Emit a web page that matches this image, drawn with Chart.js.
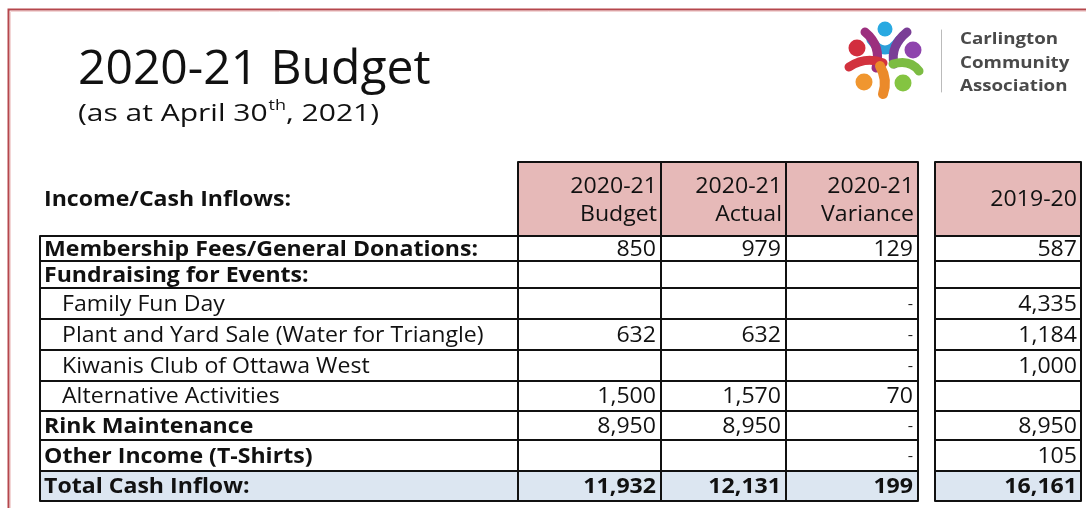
<!DOCTYPE html>
<html>
<head>
<meta charset="utf-8">
<script src="https://cdn.jsdelivr.net/npm/chart.js"></script>
<style>
  body { margin: 0; background: #fff; }
  canvas { display: block; }
</style>
</head>
<body>
<canvas id="budget" width="1086" height="508"></canvas>
<script>
// table content
const titleText = "2020-21 Budget";
const subtitleText = ["(as at April 30", "th", ", 2021)"];
const orgName = ["Carlington", "Community", "Association"];
const sectionLabel = "Income/Cash Inflows:";
const colHeaders = [["2020-21", "Budget"], ["2020-21", "Actual"], ["2020-21", "Variance"]];
const priorHeader = "2019-20";

const rowLabels = [
  "Membership Fees/General Donations:",
  "Fundraising for Events:",
  "Family Fun Day",
  "Plant and Yard Sale (Water for Triangle)",
  "Kiwanis Club of Ottawa West",
  "Alternative Activities",
  "Rink Maintenance",
  "Other Income (T-Shirts)",
  "Total Cash Inflow:"
];
const rowLevel = [0, 0, 1, 1, 1, 1, 0, 0, 0]; // 1 = sub item (indented)
const budget   = [850, null, null, 632, null, 1500, 8950, null, 11932];
const actual   = [979, null, null, 632, null, 1570, 8950, null, 12131];
const variance = [129, null, 0, 0, 0, 70, 0, 0, 199];
const prior    = [587, null, 4335, 1184, 1000, null, 8950, 105, 16161];

// layout (page pixel units on the x / y scales)
const colEdges = [40, 518, 661, 786, 918];
const priorEdges = [935, 1081];
const headTop = 162;
const rowEdges = [236, 261, 288, 319, 350, 381, 411, 440, 471, 501];

const FONT = '"Open Sans", sans-serif';
const PINK = "#e6b9b8";
const BLUE = "#dce6f1";
const STRETCH = 1.1; // the scan is a bit wider than the font

function fmt(v) {
  if (v === null) return "";
  if (v === 0) return "-";
  return v.toLocaleString("en-US");
}

// text drawn with a horizontal stretch around its anchor
function wideText(ctx, text, x, y, sx) {
  ctx.save();
  ctx.translate(x, y);
  ctx.scale(sx, 1);
  ctx.fillText(text, 0, 0);
  ctx.restore();
  return ctx.measureText(text).width * sx;
}

const pagePlugin = {
  id: "budgetPage",
  beforeDraw(chart) {
    const ctx = chart.ctx;
    ctx.save();
    ctx.fillStyle = "#fff";
    ctx.fillRect(0, 0, chart.width, chart.height);
    ctx.restore();
  },
  afterDraw(chart) {
    const { ctx } = chart;
    const xs = chart.scales.x, ys = chart.scales.y;
    const px = v => xs.getPixelForValue(v);
    const py = v => ys.getPixelForValue(v);
    ctx.save();

    // slide frame
    ctx.strokeStyle = "#b5474c";
    ctx.lineWidth = 2;
    ctx.beginPath();
    ctx.moveTo(px(1086), py(9.5));
    ctx.lineTo(px(8.5), py(9.5));
    ctx.lineTo(px(8.5), py(508));
    ctx.stroke();
    ctx.strokeStyle = "#f3d6d6";
    ctx.lineWidth = 1;
    ctx.beginPath();
    ctx.moveTo(px(1086), py(11.5));
    ctx.lineTo(px(10.5), py(11.5));
    ctx.lineTo(px(10.5), py(508));
    ctx.stroke();

    // title
    ctx.fillStyle = "#111";
    ctx.textBaseline = "alphabetic";
    ctx.textAlign = "left";
    ctx.font = "48px " + FONT;
    ctx.fillText(titleText, px(78), py(84));
    ctx.font = "24px " + FONT;
    let sx = px(78);
    sx += wideText(ctx, subtitleText[0], sx, py(121), 1.25);
    ctx.font = "15px " + FONT;
    sx += wideText(ctx, subtitleText[1], sx + 1, py(110), 1.2) + 1;
    ctx.font = "24px " + FONT;
    wideText(ctx, subtitleText[2], sx, py(121), 1.25);

    // logo
    drawLogo(ctx, px, py);
    ctx.strokeStyle = "#bbb";
    ctx.lineWidth = 1;
    ctx.beginPath();
    ctx.moveTo(px(941.5), py(30));
    ctx.lineTo(px(941.5), py(92));
    ctx.stroke();
    ctx.fillStyle = "#4a4a4a";
    ctx.font = "bold 16px " + FONT;
    orgName.forEach((t, i) => wideText(ctx, t, px(960), py(44 + i * 23.5), 1.17));

    // header cells
    ctx.fillStyle = PINK;
    ctx.fillRect(px(colEdges[1]), py(headTop), px(colEdges[4]) - px(colEdges[1]), py(rowEdges[0]) - py(headTop));
    ctx.fillRect(px(priorEdges[0]), py(headTop), px(priorEdges[1]) - px(priorEdges[0]), py(rowEdges[0]) - py(headTop));
    // total row
    const last = rowEdges.length - 2;
    ctx.fillStyle = BLUE;
    ctx.fillRect(px(colEdges[0]), py(rowEdges[last]), px(colEdges[4]) - px(colEdges[0]), py(rowEdges[last + 1]) - py(rowEdges[last]));
    ctx.fillRect(px(priorEdges[0]), py(rowEdges[last]), px(priorEdges[1]) - px(priorEdges[0]), py(rowEdges[last + 1]) - py(rowEdges[last]));

    // header text
    ctx.fillStyle = "#111";
    ctx.textBaseline = "middle";
    ctx.font = "bold 21px " + FONT;
    ctx.textAlign = "left";
    wideText(ctx, sectionLabel, px(44), py(200), STRETCH);
    ctx.font = "21px " + FONT;
    ctx.textAlign = "right";
    colHeaders.forEach((h, i) => {
      wideText(ctx, h[0], px(colEdges[i + 2] - 4), py(187), STRETCH);
      wideText(ctx, h[1], px(colEdges[i + 2] - 4), py(215), STRETCH);
    });
    wideText(ctx, priorHeader, px(priorEdges[1] - 4), py(200), STRETCH);

    // body text
    const cols = [budget, actual, variance];
    rowLabels.forEach((label, r) => {
      const cy = py((rowEdges[r] + rowEdges[r + 1]) / 2 + 1.5);
      const bold = rowLevel[r] === 0;
      ctx.font = (bold ? "bold " : "") + "21px " + FONT;
      ctx.textAlign = "left";
      wideText(ctx, label, px(rowLevel[r] ? 62 : 44), cy, STRETCH);
      ctx.textAlign = "right";
      const numFont = (r === rowLabels.length - 1 ? "bold " : "") + "21px " + FONT;
      cols.forEach((series, c) => {
        const s = fmt(series[r]);
        ctx.font = s === "-" ? "15px " + FONT : numFont;
        wideText(ctx, s, px(colEdges[c + 2] - 5), cy, STRETCH);
      });
      ctx.font = numFont;
      wideText(ctx, fmt(prior[r]), px(priorEdges[1] - 4), cy, STRETCH);
    });

    // grid lines
    ctx.strokeStyle = "#111";
    ctx.lineWidth = 2;
    ctx.beginPath();
    ctx.moveTo(px(colEdges[1]), py(headTop));
    ctx.lineTo(px(colEdges[4]), py(headTop));
    ctx.moveTo(px(priorEdges[0]), py(headTop));
    ctx.lineTo(px(priorEdges[1]), py(headTop));
    for (let c = 1; c < colEdges.length; c++) {
      ctx.moveTo(px(colEdges[c]), py(headTop));
      ctx.lineTo(px(colEdges[c]), py(rowEdges[rowEdges.length - 1]));
    }
    ctx.moveTo(px(colEdges[0]), py(rowEdges[0]));
    ctx.lineTo(px(colEdges[0]), py(rowEdges[rowEdges.length - 1]));
    priorEdges.forEach(e => {
      ctx.moveTo(px(e), py(headTop));
      ctx.lineTo(px(e), py(rowEdges[rowEdges.length - 1]));
    });
    rowEdges.forEach(e => {
      ctx.moveTo(px(colEdges[0]), py(e));
      ctx.lineTo(px(colEdges[4]), py(e));
      ctx.moveTo(px(priorEdges[0]), py(e));
      ctx.lineTo(px(priorEdges[1]), py(e));
    });
    ctx.stroke();
    ctx.restore();
  }
};

function drawLogo(ctx, px, py) {
  const arm = (color, pts, w) => {
    ctx.strokeStyle = color;
    ctx.lineWidth = w;
    ctx.lineCap = "round";
    ctx.beginPath();
    ctx.moveTo(px(pts[0]), py(pts[1]));
    ctx.quadraticCurveTo(px(pts[2]), py(pts[3]), px(pts[4]), py(pts[5]));
    ctx.stroke();
  };
  const head = (color, cx, cy, r) => {
    ctx.fillStyle = color;
    ctx.beginPath();
    ctx.arc(px(cx), py(cy), r, 0, Math.PI * 2);
    ctx.fill();
  };
  arm("#2b9fd9", [871, 40, 885, 60, 899, 40], 9);
  arm("#9c2f7e", [865, 32, 882, 46, 876, 68], 9);
  arm("#7a3e96", [907, 32, 890, 46, 894, 64], 9);
  arm("#d2323e", [849, 67, 866, 56, 883, 63], 9);
  arm("#7cbc43", [893, 64, 910, 59, 919, 71], 9);
  arm("#eb8a2a", [880, 66, 888, 80, 883, 94], 10);
  head("#29a9e1", 885, 29, 7.5);
  head("#d22e3e", 857, 48, 8.5);
  head("#8e44ad", 913, 50, 8.5);
  head("#f0962f", 864, 82, 8.5);
  head("#84c441", 903, 83, 8.5);
}

new Chart(document.getElementById("budget"), {
  type: "scatter",
  data: { datasets: [] },
  options: {
    responsive: false,
    animation: false,
    events: [],
    layout: { padding: 0 },
    plugins: { legend: { display: false }, tooltip: { enabled: false } },
    scales: {
      x: { type: "linear", min: 0, max: 1086, display: false },
      y: { type: "linear", min: 0, max: 508, reverse: true, display: false }
    }
  },
  plugins: [pagePlugin]
});
</script>
</body>
</html>
